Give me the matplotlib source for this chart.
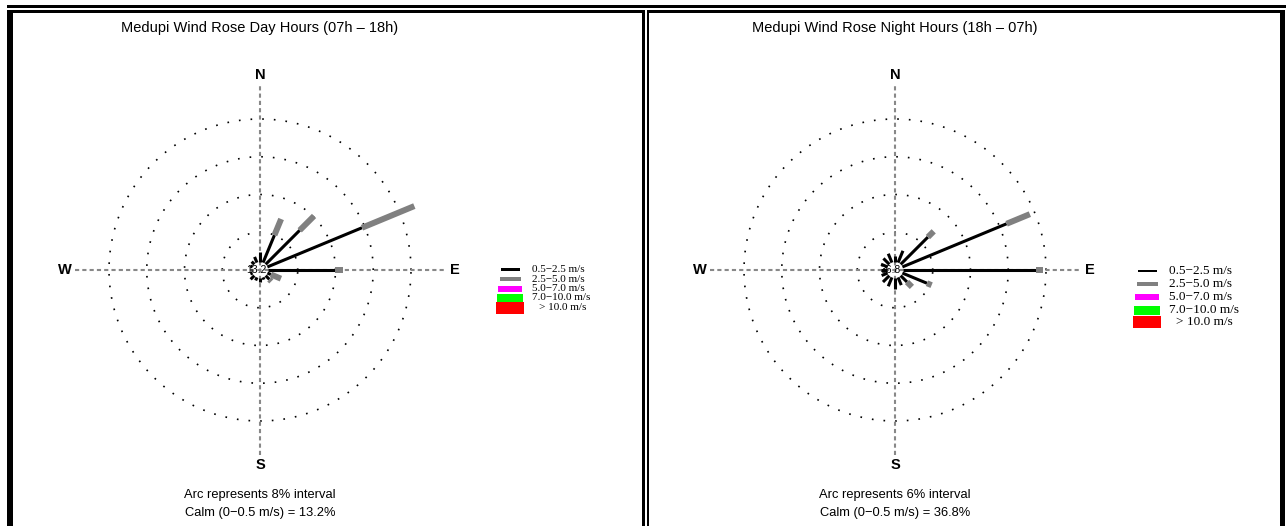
import numpy as np
import matplotlib
matplotlib.use("Agg")
import matplotlib.pyplot as plt
from matplotlib.patches import Rectangle

# 16-point compass bearings (degrees clockwise from north)
directions = np.arange(16) * 22.5

speed_classes = ["0.5\u22122.5 m/s", "2.5\u22125.0 m/s", "5.0\u22127.0 m/s",
                 "7.0\u221210.0 m/s", "> 10.0 m/s"]
class_colors = ["black", "#808080", "magenta", "lime", "red"]
class_widths = [2.2, 4.3, 5.5, 7.0, 8.5]

# Day hours (07h - 18h): frequency (%) per direction and speed class
day_c1 = [3.8, 8.0, 11.9, 23.4, 15.8, 2.5, 2.8, 2.2, 2.6, 2.4, 2.8, 2.2, 2.0, 2.2, 2.5, 3.0]
day_c2 = [0.0, 3.7, 4.3, 12.0, 1.7, 2.3, 0.6, 0.0, 0.0, 0.0, 0.0, 0.0, 0.0, 0.0, 0.0, 0.0]
day_c3 = [0.0] * 16
day_c4 = [0.0] * 16
day_c5 = [0.0] * 16
day_calm = 13.2
day_arc = 8

# Night hours (18h - 07h)
night_c1 = [2.2, 3.3, 7.4, 19.2, 22.4, 5.5, 2.7, 2.6, 3.0, 2.8, 2.7, 2.3, 2.2, 2.4, 2.6, 2.8]
night_c2 = [0.0, 0.0, 1.3, 4.0, 1.1, 0.8, 1.1, 0.0, 0.0, 0.0, 0.0, 0.0, 0.0, 0.0, 0.0, 0.0]
night_c3 = [0.0] * 16
night_c4 = [0.0] * 16
night_c5 = [0.0] * 16
night_calm = 36.8
night_arc = 6

W, H = 1286, 526
fig = plt.figure(figsize=(W / 100, H / 100), dpi=100)

# full-figure axes in pixel units for frames, titles and legends
bg = fig.add_axes([0, 0, 1, 1])
bg.set_xlim(0, W)
bg.set_ylim(H, 0)
bg.axis("off")

def box(x0, y0, x1, y1):
    bg.add_patch(Rectangle((x0, y0), x1 - x0, y1 - y0, color="black", lw=0))

box(7, 5, W, 7.5)
box(7, 10, 13, H)
box(13, 10, 644, 12.5)
box(642, 10, 644.5, H)
box(646.5, 10, 649, H)
box(649, 10, 1285, 12.5)
box(1280, 10, 1285, H)

sans = "Liberation Sans"
serif = "Liberation Serif"


def rose(cx, cy, title, classes, calm, arc, legend_rows, legend_x, legend_fs):
    ring_px = 151.0
    scale = arc * 4 / ring_px          # percent per pixel
    R = 200 * scale
    ax = fig.add_axes([(cx - 200) / W, 1 - (cy + 200) / H, 400 / W, 400 / H])
    ax.set_xlim(-R, R)
    ax.set_ylim(-R, R)
    ax.set_aspect("equal")
    ax.axis("off")

    t = np.linspace(0, 2 * np.pi, 400)
    for k in range(1, 5):
        ax.plot(k * arc * np.cos(t), k * arc * np.sin(t), color="black",
                lw=1.2, ls=(0, (1, 6)), zorder=1)
    L = 185 * scale
    ax.plot([-L, L], [0, 0], color="#888888", lw=1.5, ls=(0, (2, 1.5)), zorder=1)
    ax.plot([0, 0], [-L, L], color="#888888", lw=1.5, ls=(0, (2, 1.5)), zorder=1)

    lab = 195 * scale
    for s, x, y in [("N", 0, lab), ("S", 0, -lab), ("W", -lab, 0), ("E", lab, 0)]:
        ax.text(x, y, s, ha="center", va="center", fontsize=10.5,
                fontweight="bold", family=sans)

    ax.text(-4 * scale, 0, f"{calm}", ha="center", va="center",
            fontsize=7.5, family=sans, zorder=2)

    r_calm = 8 * scale
    theta = np.radians(directions)
    start = np.full(16, r_calm)
    end = np.zeros(16)
    for vals, col, lw in zip(classes, class_colors, class_widths):
        end = end + np.asarray(vals)
        for th, r0, r1 in zip(theta, start, end):
            if r1 <= r0:
                continue
            ax.plot([r0 * np.sin(th), r1 * np.sin(th)],
                    [r0 * np.cos(th), r1 * np.cos(th)],
                    color=col, lw=lw, solid_capstyle="butt", zorder=3)
        start = np.maximum(start, end)

    bg.text(cx, 28, title, ha="center", va="center", fontsize=10.5, family=sans)
    bg.text(cx, 495, f"Arc represents {arc}% interval", ha="center",
            va="center", fontsize=9.3, family=sans)
    bg.text(cx, 513, f"Calm (0\u22120.5 m/s) = {calm}%", ha="center",
            va="center", fontsize=9.3, family=sans)

    # legend
    heights = [2.5, 4.5, 6, 9, 12]
    widths = [19, 21, 24, 26, 28]
    for i, (y, lbl) in enumerate(zip(legend_rows, speed_classes)):
        bg.add_patch(Rectangle((legend_x - widths[i] / 2, y - heights[i] / 2),
                               widths[i], heights[i], color=class_colors[i], lw=0))
        tx = legend_x + 22 + (7 if i == 4 else 0)
        bg.text(tx, y, lbl, ha="left", va="center", fontsize=legend_fs,
                family=serif)


rose(260, 270, "Medupi Wind Rose Day Hours (07h \u2013 18h)",
     [day_c1, day_c2, day_c3, day_c4, day_c5], day_calm, day_arc,
     [269.5, 279, 288.5, 298, 307.5], 510, 8.0)
rose(895, 270, "Medupi Wind Rose Night Hours (18h \u2013 07h)",
     [night_c1, night_c2, night_c3, night_c4, night_c5], night_calm, night_arc,
     [271, 284, 297, 310, 322], 1147, 9.5)

fig.savefig("out.png", dpi=100)
